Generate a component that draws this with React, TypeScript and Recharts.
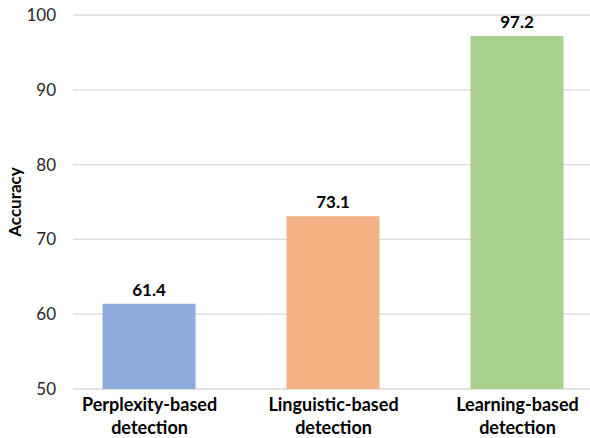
import { BarChart, Bar, XAxis, YAxis, CartesianGrid, LabelList, Cell } from 'recharts'

const categories = ['Perplexity-based detection', 'Linguistic-based detection', 'Learning-based detection']
const accuracy = [61.4, 73.1, 97.2]
const barColors = ['#8FAADC', '#F4B183', '#A9D18E']
const yTicks = [50, 60, 70, 80, 90, 100]

const data = categories.map((name, i) => ({ pos: i + 1, name, value: accuracy[i] }))

const FONT = 'Lato, "Noto Sans", sans-serif'

// two-line bold category labels under the bars
const CategoryTick = ({ x, y, payload }: { x?: number; y?: number; payload?: { value: number } }) => {
  const label = categories[(payload?.value ?? 1) - 1] || ''
  const cut = label.lastIndexOf(' ')
  const lines = [label.slice(0, cut), label.slice(cut + 1)]
  return (
    <text x={x} y={y} textAnchor="middle" fontFamily={FONT} fontWeight={700} fontSize={18} fill="#000">
      {lines.map((l, i) => (
        <tspan key={i} x={x} dy={i === 0 ? 14 : 23}>{l}</tspan>
      ))}
    </text>
  )
}

export default function App() {
  return (
    <div style={{ position: 'absolute', left: 0, top: 0, width: 590, height: 438, background: '#fff' }}>
      <BarChart width={590} height={438} data={data} margin={{ top: 15, right: 0, bottom: 0, left: 0 }}>
        <CartesianGrid vertical={false} stroke="#D9D9D9" strokeWidth={1.3} />
        <XAxis
          dataKey="pos"
          type="number"
          domain={[0.584, 3.394]}
          ticks={[1, 2, 3]}
          axisLine={false}
          tickLine={false}
          tick={<CategoryTick />}
          height={49}
          allowDataOverflow
        />
        <YAxis
          domain={[50, 100]}
          ticks={yTicks}
          width={73}
          axisLine={false}
          tickLine={false}
          tickSize={0}
          tickMargin={17}
          tick={{ fontFamily: FONT, fontSize: 17, fill: '#262626' }}
          label={{
            value: 'Accuracy', angle: -90, position: 'insideLeft', offset: 15,
            style: { fontFamily: FONT, fontWeight: 700, fontSize: 17, fill: '#000', textAnchor: 'middle' },
          }}
        />
        <Bar dataKey="value" barSize={93} isAnimationActive={false}>
          {data.map((d, i) => <Cell key={d.name} fill={barColors[i]} />)}
          <LabelList
            dataKey="value"
            position="top"
            offset={8}
            style={{ fontFamily: FONT, fontWeight: 700, fontSize: 17, fill: '#000' }}
          />
        </Bar>
      </BarChart>
    </div>
  )
}
